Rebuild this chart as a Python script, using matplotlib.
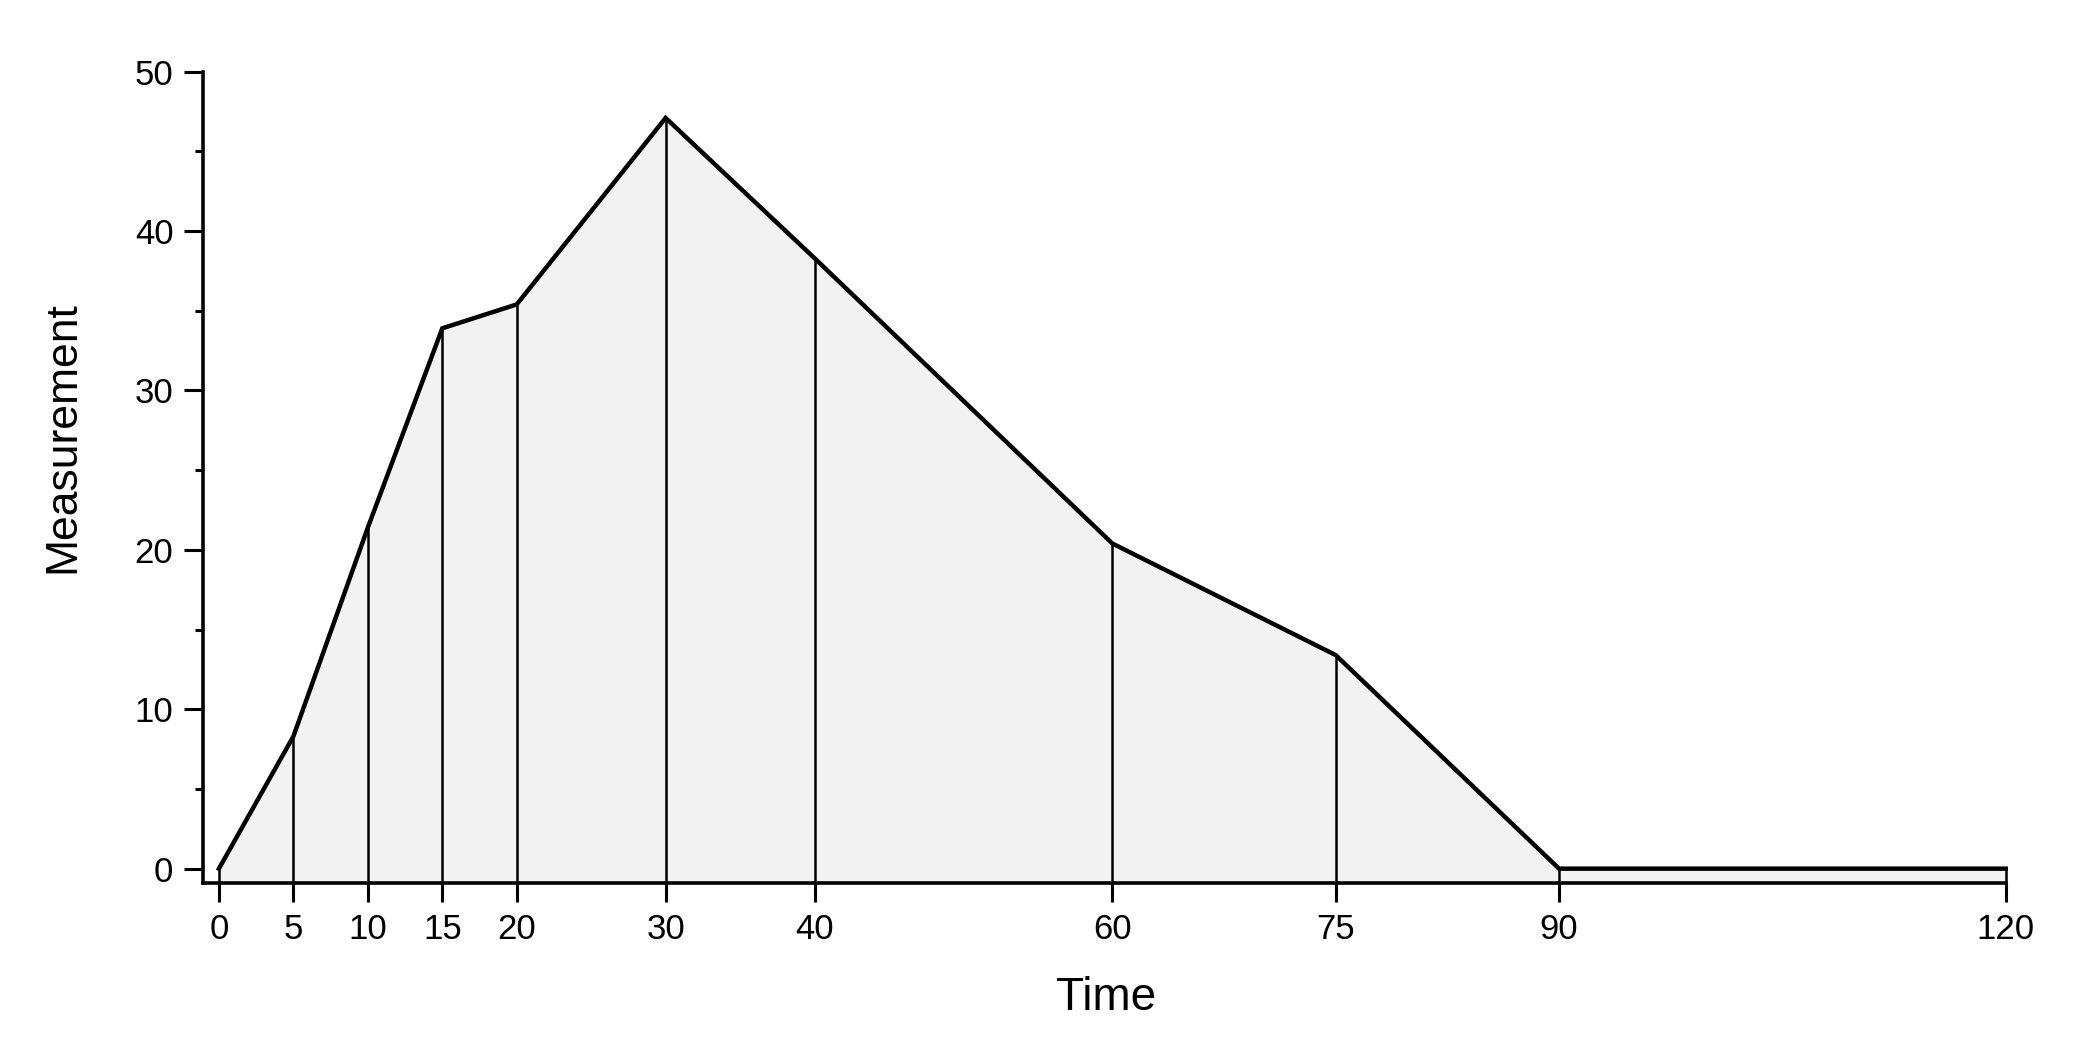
import numpy as np
import matplotlib
matplotlib.use("Agg")
import matplotlib.pyplot as plt
from matplotlib.ticker import MultipleLocator

plt.rcParams['font.family'] = ['Liberation Sans', 'DejaVu Sans']

# data
time = [0, 5, 10, 15, 20, 30, 40, 60, 75, 90, 120]
measurement = [0, 8.3, 21.4, 33.9, 35.4, 47.1, 38.3, 20.4, 13.4, 0, 0]

ymin, ymax = -0.9, 50
xmin, xmax = -1.05, 120.15

# axes box in pixels (left, right, top, bottom)
L, R, T, B = 203.3, 2008.0, 71.7, 883.0

fig = plt.figure(figsize=(20.79, 10.59), dpi=100)
ax = fig.add_axes([L / 2079, 1 - B / 1059, (R - L) / 2079, (B - T) / 1059])

# shaded area under the curve down to the axis
ax.fill_between(time, measurement, ymin, color='#f2f2f2', linewidth=0)
# drop lines at each sample time
ax.vlines(time, ymin, measurement, color='black', linewidth=1.8)
ax.plot(time, measurement, color='black', linewidth=3.2, solid_joinstyle='miter')

ax.set_xlim(xmin, xmax)
ax.set_ylim(ymin, ymax)

ax.set_xticks(time)
ax.set_yticks([0, 10, 20, 30, 40, 50])
ax.yaxis.set_minor_locator(MultipleLocator(5))

for s in ['top', 'right']:
    ax.spines[s].set_visible(False)
for s in ['left', 'bottom']:
    ax.spines[s].set_linewidth(2.6)
ax.spines['bottom'].set_bounds(xmin, 120)

ax.tick_params(axis='both', which='major', length=13.5, width=2.2, labelsize=25, pad=8, direction='out')
ax.tick_params(axis='y', which='minor', length=6, width=2.2, direction='out')

ax.set_xlabel('Time', fontsize=33)
ax.set_ylabel('Measurement', fontsize=32)
ax.xaxis.set_label_coords(0.5, -(998 - B) / (B - T))
ax.yaxis.set_label_coords(-(L - 63) / (R - L), 1 - (437 - T) / (B - T))
ax.xaxis.label.set_verticalalignment('center')
ax.yaxis.label.set_verticalalignment('center')

fig.savefig('out.png', dpi=100)
